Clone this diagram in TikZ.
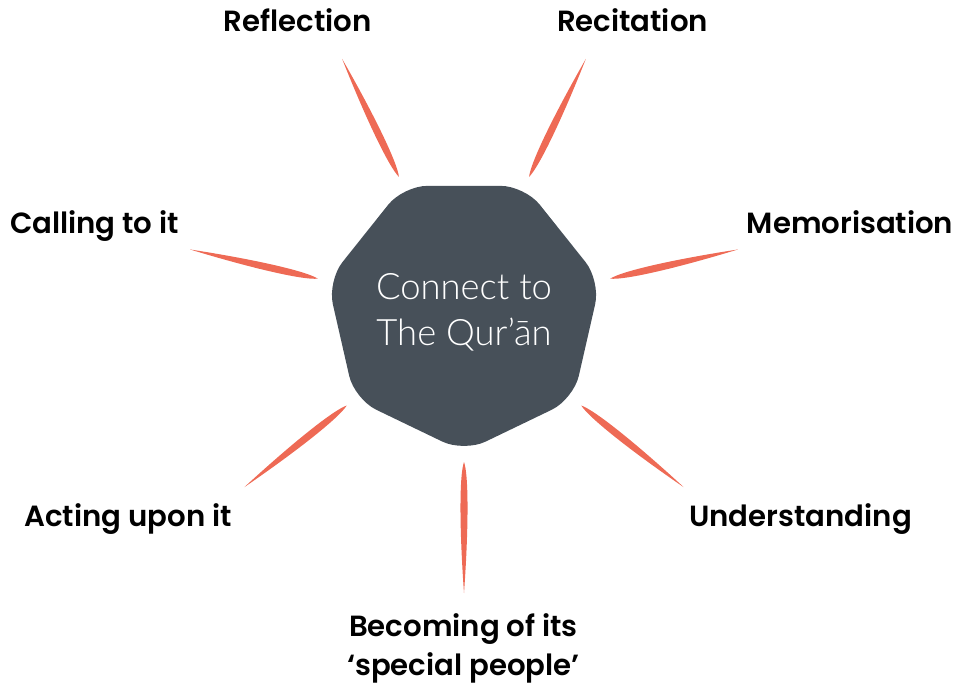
\documentclass[tikz,border=0pt]{standalone}
\usepackage{fontspec}
\setmainfont{Poppins}[BoldFont={Poppins SemiBold}]
\newfontfamily\thinfont{Lato Light}
\usetikzlibrary{shapes.geometric,calc}

\definecolor{slate}{HTML}{475059}
\definecolor{coral}{HTML}{EE6A55}

\tikzset{
    topic/.style={font=\fontsize{14.6}{19.5}\selectfont\bfseries, anchor=base, align=center},
    hub/.style={regular polygon, regular polygon sides=7, shape border rotate=180,
        minimum size=140pt, inner sep=0pt, fill=slate, rounded corners=12pt,
        text=white, align=center, font=\fontsize{18.2}{22.9}\selectfont\thinfont},
    spoke/.style={fill=coral, draw=none}
}

\begin{document}
\begin{tikzpicture}[x=0.5pt, y=0.5pt]
        \useasboundingbox (0, 0) rectangle (967, 687);
        \node[hub] at (464, 375) (hub) {Connect to\\The Qur’ān};
        \foreach \a/\n in {270/becoming, 321.43/understanding, 12.86/memorisation, 64.29/recitation, 115.71/reflection, 167.14/calling, 218.57/acting} {
            \coordinate (\n-in) at ($(hub.center)+(\a:150)$);
            \coordinate (\n-out) at ($(hub.center)+(\a:281)$);
            \fill[spoke] (\n-in) .. controls ($(\n-in)!0.1!(\n-out)!2.35pt!90:(\n-out)$) and ($(\n-in)!0.5!(\n-out)!2.35pt!90:(\n-out)$) .. (\n-out)
                .. controls ($(\n-in)!0.5!(\n-out)!2.35pt!-90:(\n-out)$) and ($(\n-in)!0.1!(\n-out)!2.35pt!-90:(\n-out)$) .. (\n-in) -- cycle;
        }
        \node[topic] at (297.5, 655) (reflection) {Reflection};
        \node[topic] at (632.5, 655) (recitation) {Recitation};
        \node[topic] at (94.5, 454) (calling) {Calling to it};
        \node[topic] at (850, 454) (memorisation) {Memorisation};
        \node[topic] at (128, 161) (acting) {Acting upon it};
        \node[topic] at (800.5, 161) (understanding) {Understanding};
        \node[topic] at (463.5, 12) (becoming) {Becoming of its\\‘special people’};
    \end{tikzpicture}
\end{document}
